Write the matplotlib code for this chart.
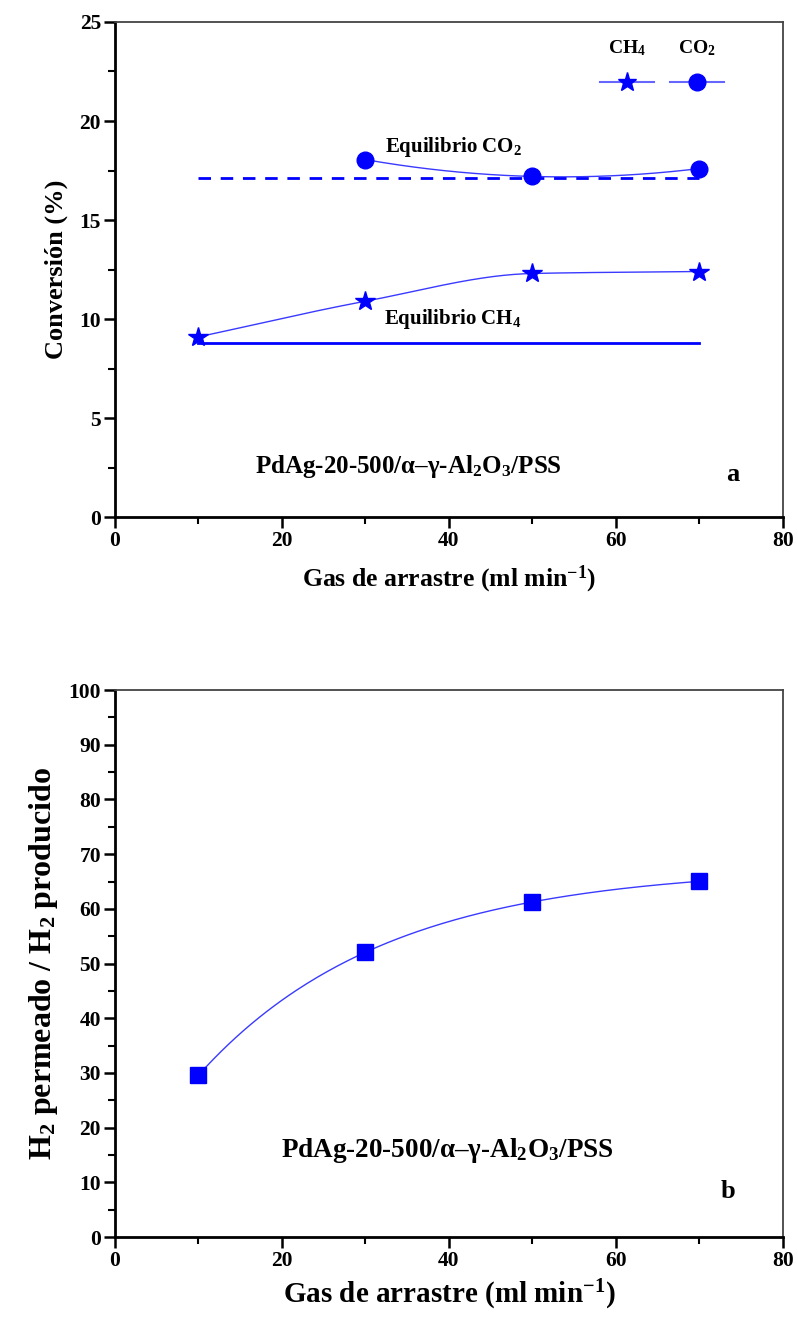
import numpy as np
import matplotlib
matplotlib.use("Agg")
import matplotlib.pyplot as plt
from matplotlib.ticker import MultipleLocator
from matplotlib.offsetbox import VPacker

plt.rcParams["font.family"] = ["Liberation Serif", "DejaVu Serif"]
plt.rcParams["font.weight"] = "bold"
plt.rcParams["mathtext.fontset"] = "custom"
plt.rcParams["mathtext.rm"] = "Liberation Serif:bold"
plt.rcParams["mathtext.it"] = "Liberation Serif:bold"
plt.rcParams["mathtext.bf"] = "Liberation Serif:bold"

# Datos (a): conversión vs gas de arrastre
flujo = [10, 30, 50, 70]
conv_ch4 = [9.1, 10.9, 12.3, 12.4]
flujo_co2 = [30, 50, 70]
conv_co2 = [18.05, 17.2, 17.6]
eq_x = [10, 70]
eq_ch4 = [8.8, 8.8]
eq_co2 = [17.1, 17.1]

# Datos (b): H2 permeado / H2 producido
h2_ratio = [29.6, 52.1, 61.2, 65.1]

azul = "#0000ff"
linea = "#3a3aff"


def curva_monotona(x, y, n=200):
    # interpolación cúbica monótona (Fritsch-Carlson) para la línea guía
    x = np.asarray(x, float)
    y = np.asarray(y, float)
    h = np.diff(x)
    d = np.diff(y) / h
    m = np.zeros_like(y)
    m[0], m[-1] = d[0], d[-1]
    for i in range(1, len(y) - 1):
        if d[i - 1] * d[i] > 0:
            w1 = 2 * h[i] + h[i - 1]
            w2 = h[i] + 2 * h[i - 1]
            m[i] = (w1 + w2) / (w1 / d[i - 1] + w2 / d[i])
    xs = np.linspace(x[0], x[-1], n)
    k = np.clip(np.searchsorted(x, xs) - 1, 0, len(x) - 2)
    t = (xs - x[k]) / h[k]
    h00 = 2 * t**3 - 3 * t**2 + 1
    h10 = t**3 - 2 * t**2 + t
    h01 = -2 * t**3 + 3 * t**2
    h11 = t**3 - t**2
    ys = h00 * y[k] + h10 * h[k] * m[k] + h01 * y[k + 1] + h11 * h[k] * m[k + 1]
    return xs, ys


def ajuste_exp(x, y, n=200):
    # y = a - b*exp(-x/c), c por barrido y a,b por mínimos cuadrados
    x = np.asarray(x, float)
    y = np.asarray(y, float)
    mejor = None
    for c in np.linspace(5, 100, 400):
        A = np.column_stack([np.ones_like(x), -np.exp(-x / c)])
        coef, *_ = np.linalg.lstsq(A, y, rcond=None)
        err = np.sum((A @ coef - y) ** 2)
        if mejor is None or err < mejor[0]:
            mejor = (err, c, coef)
    _, c, (a, b) = mejor
    xs = np.linspace(x[0], x[-1], n)
    return xs, a - b * np.exp(-xs / c)


def estilo_ejes(ax, ymax, ymaj, ymin):
    ax.set_xlim(0, 80)
    ax.set_ylim(0, ymax)
    ax.xaxis.set_major_locator(MultipleLocator(20))
    ax.xaxis.set_minor_locator(MultipleLocator(10))
    ax.yaxis.set_major_locator(MultipleLocator(ymaj))
    ax.yaxis.set_minor_locator(MultipleLocator(ymin))
    for s in ["left", "bottom"]:
        ax.spines[s].set_linewidth(2)
    for s in ["top", "right"]:
        ax.spines[s].set_linewidth(1.3)
        ax.spines[s].set_color("#444444")
    ax.tick_params(which="major", direction="out", length=8, width=1.8, labelsize=15.5, pad=2)
    ax.tick_params(which="minor", direction="out", length=5, width=1.5)
    for lab in ax.get_xticklabels() + ax.get_yticklabels():
        lab.set_fontweight("bold")


fig = plt.figure(figsize=(7.98, 13.17), dpi=100)

# ---------- (a) ----------
ax1 = fig.add_axes([0.1441, 0.6074, 0.8371, 0.3759])
xs, ys = curva_monotona(flujo, conv_ch4)
ax1.plot(xs, ys, color=linea, lw=1.0)
xs2 = np.linspace(30, 70, 200)
c_co2 = np.polyfit(flujo_co2, conv_co2, 2)
ax1.plot(xs2, np.polyval(c_co2, xs2), color=linea, lw=1.0)
ax1.plot(eq_x, eq_ch4, color=azul, lw=2.0)
ax1.plot(eq_x, eq_co2, color=azul, lw=2.0, ls=(0, (4.5, 3.5)))
ax1.plot(flujo, conv_ch4, ls="none", marker="*", ms=15, color=azul)
ax1.plot(flujo_co2, conv_co2, ls="none", marker="o", ms=12, color=azul)

# leyenda con etiquetas encima de los símbolos
h1, = ax1.plot([], [], color="#6666ff", lw=1.5, marker="*", ms=14, mfc=azul, mec=azul)
h2, = ax1.plot([], [], color="#6666ff", lw=1.5, marker="o", ms=12, mfc=azul, mec=azul)
leg = ax1.legend([h1, h2], ["CH$_4$", "CO$_2$"], ncol=2, frameon=False,
                 loc="upper right", bbox_to_anchor=(0.912, 0.967),
                 handlelength=2.8, columnspacing=0.8, borderpad=0, borderaxespad=0,
                 prop={"weight": "bold", "size": 14})
for col in leg._legend_handle_box.get_children():
    nuevos = []
    for item in col.get_children():
        h, t = item.get_children()
        nuevos.append(VPacker(children=[t, h], align="center", pad=0, sep=12))
    col._children = nuevos
leg._legend_box.set_figure(fig)

ax1.text(40.5, 18.7, "Equilibrio CO$_2$", fontsize=15, fontweight="bold", ha="center", va="center")
ax1.text(40.5, 10.0, "Equilibrio CH$_4$", fontsize=15, fontweight="bold", ha="center", va="center")
ax1.text(0.21, 0.103, r"PdAg-20-500/α–γ-Al$_{2}$O$_{3}$/PSS", transform=ax1.transAxes,
         fontsize=18, fontweight="bold", va="center")
ax1.text(0.925, 0.085, "a", transform=ax1.transAxes, fontsize=19, fontweight="bold",
         ha="center", va="center")

estilo_ejes(ax1, 25, 5, 2.5)
ax1.set_ylabel("Conversión (%)", fontsize=19, fontweight="bold", labelpad=8)
ax1.set_xlabel("Gas de arrastre (ml min$^{-1}$)", fontsize=18.5, fontweight="bold", labelpad=9)

# ---------- (b) ----------
ax2 = fig.add_axes([0.1441, 0.0607, 0.8371, 0.4153])
xs, ys = ajuste_exp(flujo, h2_ratio)
ax2.plot(xs, ys, color=linea, lw=1.0)
ax2.plot(flujo, h2_ratio, ls="none", marker="s", ms=11, color=azul)
ax2.text(0.248, 0.159, r"PdAg-20-500/α–γ-Al$_{2}$O$_{3}$/PSS", transform=ax2.transAxes,
         fontsize=19.5, fontweight="bold", va="center")
ax2.text(0.918, 0.083, "b", transform=ax2.transAxes, fontsize=19, fontweight="bold",
         ha="center", va="center")

estilo_ejes(ax2, 100, 10, 5)
ax2.set_ylabel("H$_2$ permeado / H$_2$ producido", fontsize=23, fontweight="bold", labelpad=6)
ax2.set_xlabel("Gas de arrastre (ml min$^{-1}$)", fontsize=21, fontweight="bold", labelpad=5)

fig.savefig("out.png", dpi=100)
